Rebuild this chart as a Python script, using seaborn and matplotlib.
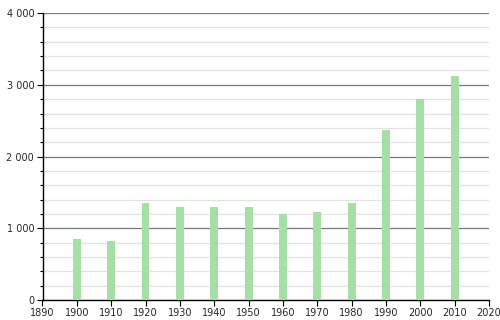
import matplotlib
matplotlib.use("Agg")
import matplotlib.pyplot as plt
from matplotlib.ticker import MultipleLocator, FuncFormatter
import seaborn as sns
import pandas as pd

years = [1900, 1910, 1920, 1930, 1940, 1950, 1960, 1970, 1980, 1990, 2000, 2010]
population = [850, 822, 1347, 1300, 1300, 1295, 1194, 1231, 1352, 2369, 2797, 3122]

df = pd.DataFrame({"year": years, "pop": population})

sns.set_style("white")
plt.rcParams["font.family"] = ["DejaVu Sans"]

fig = plt.figure(figsize=(5, 3.2), dpi=100)
ax = fig.add_axes([0.085, 0.0625, 0.893, 0.8965])

sns.barplot(data=df, x="year", y="pop", native_scale=True, width=0.23,
            color="#a6dea6", saturation=1, linewidth=0, ax=ax, zorder=3)

ax.set_xlim(1890, 2020)
ax.set_ylim(0, 4000)
ax.xaxis.set_major_locator(MultipleLocator(10))
ax.yaxis.set_major_locator(MultipleLocator(1000))
ax.yaxis.set_minor_locator(MultipleLocator(200))
ax.yaxis.set_major_formatter(FuncFormatter(lambda v, p: f"{int(v):,}".replace(",", " ")))

ax.grid(axis="y", which="major", color="#7a7a7a", linewidth=0.9, zorder=1)
ax.grid(axis="y", which="minor", color="#e2e2e2", linewidth=0.9, zorder=1)
ax.set_axisbelow(True)

for s in ["top", "right"]:
    ax.spines[s].set_visible(False)
ax.spines["left"].set_color("black")
ax.spines["bottom"].set_color("black")
ax.spines["left"].set_linewidth(1)
ax.spines["bottom"].set_linewidth(1)

ax.tick_params(axis="both", which="major", length=4, width=0.8, color="black",
               labelsize=7, pad=2, left=True, bottom=True)
ax.tick_params(axis="y", which="minor", length=2.5, width=0.8, color="black", left=True)
ax.set_xlabel("")
ax.set_ylabel("")

fig.savefig("out.png", dpi=100)
